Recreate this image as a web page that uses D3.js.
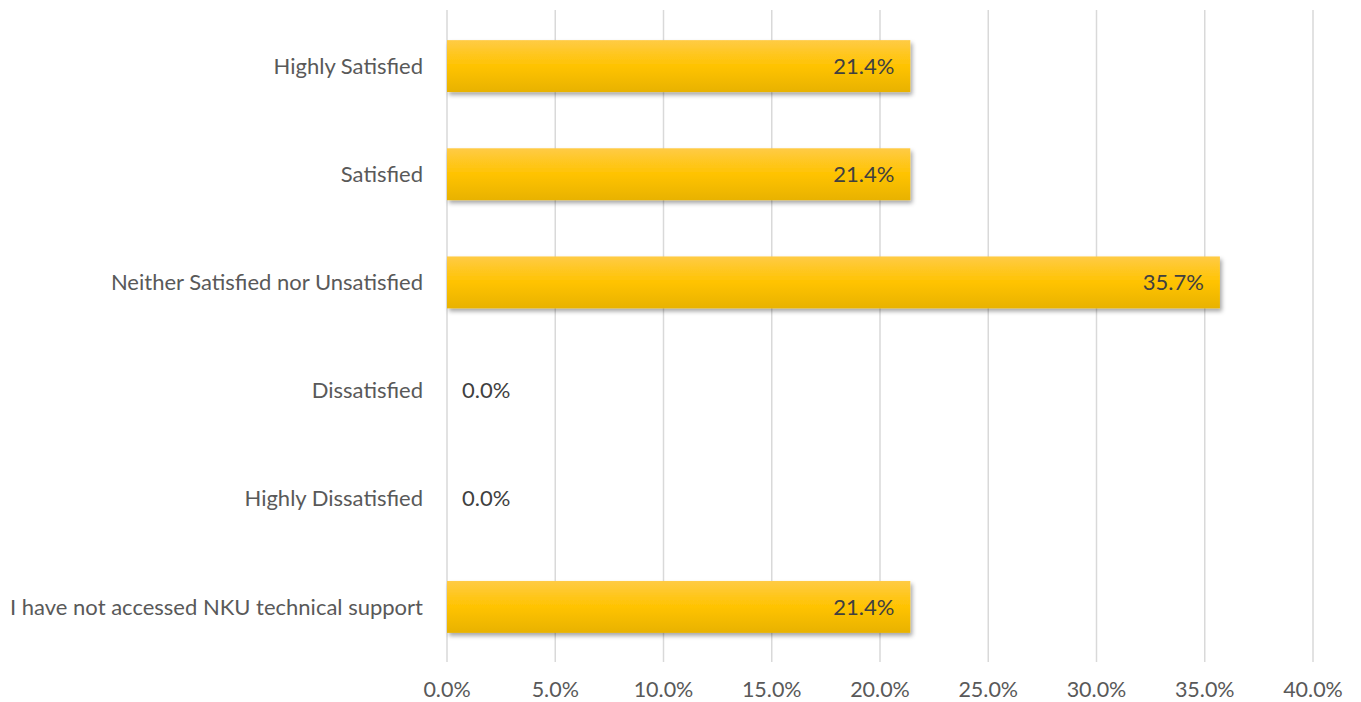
<!DOCTYPE html>
<html>
<head>
<meta charset="utf-8">
<script src="https://cdn.jsdelivr.net/npm/d3@7"></script>
<style>
  html, body { margin: 0; padding: 0; background: #fff; }
  svg text { font-family: Lato, "Open Sans", sans-serif; }
</style>
</head>
<body>
<svg id="chart" width="1361" height="702"></svg>
<script>
const categories = [
  "Highly Satisfied",
  "Satisfied",
  "Neither Satisfied nor Unsatisfied",
  "Dissatisfied",
  "Highly Dissatisfied",
  "I have not accessed NKU technical support"
];
const values = [21.4, 21.4, 35.7, 0.0, 0.0, 21.4];
const tickValues = [0, 5, 10, 15, 20, 25, 30, 35, 40];

const svg = d3.select("#chart");
const margin = { left: 447, right: 48, top: 12, bottom: 41 };
const W = 1361, H = 702;
const fontSize = 22;

const x = d3.scaleLinear().domain([0, 40]).range([margin.left, W - margin.right]);
const y = d3.scaleBand().domain(categories).range([margin.top, H - margin.bottom]).paddingInner(0.52).paddingOuter(0.26);

const defs = svg.append("defs");
const grad = defs.append("linearGradient").attr("id", "barFill").attr("x1", 0).attr("y1", 0).attr("x2", 0).attr("y2", 1);
grad.append("stop").attr("offset", "0%").attr("stop-color", "#FFCB45");
grad.append("stop").attr("offset", "50%").attr("stop-color", "#FFC300");
grad.append("stop").attr("offset", "100%").attr("stop-color", "#E8B200");

const shadow = defs.append("filter").attr("id", "shadow").attr("x", "-5%").attr("y", "-20%").attr("width", "110%").attr("height", "160%");
shadow.append("feDropShadow").attr("dx", 2).attr("dy", 3).attr("stdDeviation", 2).attr("flood-color", "#000").attr("flood-opacity", 0.35);

// vertical gridlines, extended slightly below as tick marks
svg.append("g").selectAll("line").data(tickValues).join("line")
  .attr("x1", d => x(d)).attr("x2", d => x(d))
  .attr("y1", margin.top - 2).attr("y2", H - margin.bottom + 1)
  .attr("stroke", "#D9D9D9").attr("stroke-width", 1.5);

// axis tick labels
svg.append("g").selectAll("text").data(tickValues).join("text")
  .attr("x", d => x(d)).attr("y", 697)
  .attr("text-anchor", "middle")
  .attr("font-size", 21.5).attr("fill", "#595959")
  .text(d => d.toFixed(1) + "%");

// category labels
svg.append("g").selectAll("text").data(categories).join("text")
  .attr("x", margin.left - 24)
  .attr("y", d => y(d) + y.bandwidth() / 2)
  .attr("dy", "0.35em")
  .attr("text-anchor", "end")
  .attr("font-size", fontSize).attr("fill", "#595959")
  .text(d => d);

// bars
svg.append("g").selectAll("rect").data(values).join("rect")
  .attr("x", x(0))
  .attr("y", (d, i) => y(categories[i]))
  .attr("width", d => x(d) - x(0))
  .attr("height", y.bandwidth())
  .attr("fill", "url(#barFill)")
  .attr("filter", "url(#shadow)");

// value labels
svg.append("g").selectAll("text").data(values).join("text")
  .attr("x", d => d > 0 ? x(d) - 16 : x(0) + 15)
  .attr("y", (d, i) => y(categories[i]) + y.bandwidth() / 2)
  .attr("dy", "0.35em")
  .attr("text-anchor", d => d > 0 ? "end" : "start")
  .attr("font-size", fontSize).attr("fill", "#404040")
  .text(d => d.toFixed(1) + "%");
</script>
</body>
</html>
